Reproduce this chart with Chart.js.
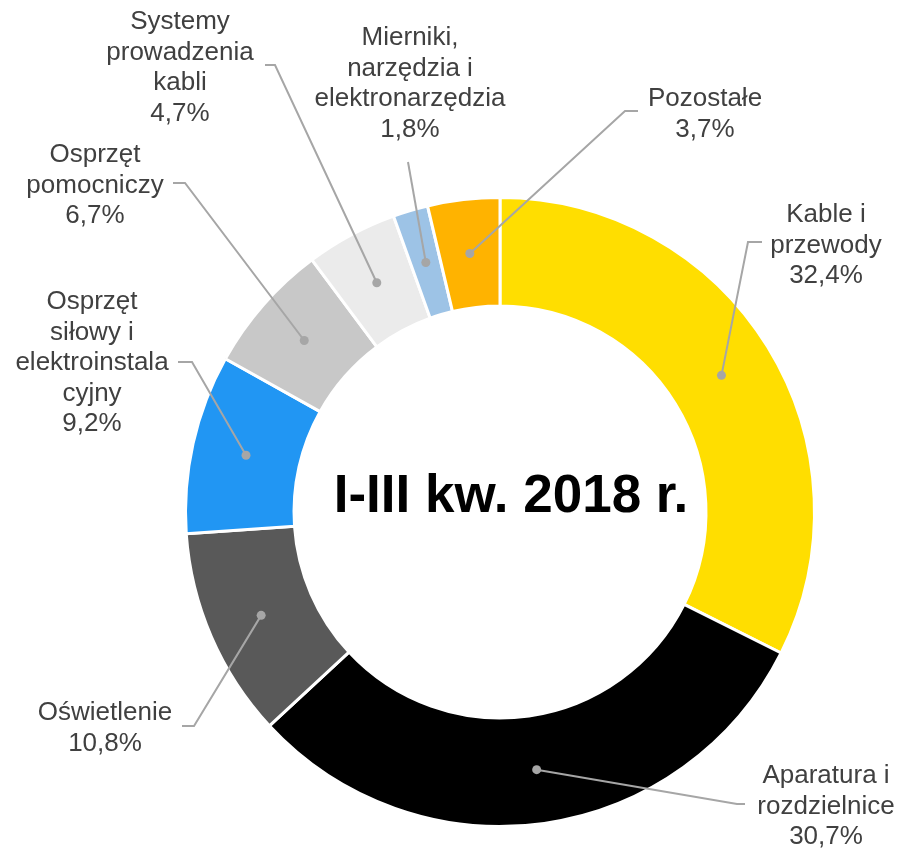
<!DOCTYPE html>
<html>
<head>
<meta charset="utf-8">
<script src="https://cdn.jsdelivr.net/npm/chart.js@4/dist/chart.umd.min.js"></script>
<style>
  html, body { margin: 0; padding: 0; background: #ffffff; }
  #wrap { width: 899px; height: 849px; position: relative; }
</style>
</head>
<body>
<div id="wrap"><canvas id="chartUdzial"></canvas></div>
<script>
// Dane: udział grup asortymentowych, I-III kw. 2018 r.
var kategorie = [
  ['Kable i', 'przewody'],
  ['Aparatura i', 'rozdzielnice'],
  ['Oświetlenie'],
  ['Osprzęt', 'siłowy i', 'elektroinstala', 'cyjny'],
  ['Osprzęt', 'pomocniczy'],
  ['Systemy', 'prowadzenia', 'kabli'],
  ['Mierniki,', 'narzędzia i', 'elektronarzędzia'],
  ['Pozostałe']
];
var udzialy = [32.4, 30.7, 10.8, 9.2, 6.7, 4.7, 1.8, 3.7];
var tytulSrodek = 'I-III kw. 2018 r.';

var KOLORY = ['#FFDE00', '#000000', '#595959', '#2196F3', '#C8C8C8', '#EBEBEB', '#9DC3E6', '#FFB300'];

// Położenie etykiet: środek tekstu (x), pierwsza linia bazowa (y),
// początek odnośnika (lx, ly) i kolano linii (kx)
var UKLAD_ETYKIET = [
  { x: 826, y: 222, lx: 762, ly: 242, kx: 748 },
  { x: 826, y: 783, lx: 745, ly: 804, kx: 737 },
  { x: 105, y: 720, lx: 182, ly: 726, kx: 194 },
  { x: 92,  y: 309, lx: 178, ly: 362, kx: 192 },
  { x: 95,  y: 162, lx: 173, ly: 183, kx: 185 },
  { x: 180, y: 29,  lx: 265, ly: 65,  kx: 275 },
  { x: 410, y: 45,  lx: 408, ly: 162, kx: 408 },
  { x: 705, y: 106, lx: 638, ly: 111, kx: 625 }
];

function fmtProcent(v) {
  return v.toFixed(1).replace('.', ',') + '%';
}

var etykietyPlugin = {
  id: 'etykiety',
  afterDatasetsDraw: function(chart) {
    var ctx = chart.ctx;
    var meta = chart.getDatasetMeta(0);
    var lineH = 30.5;

    ctx.save();
    meta.data.forEach(function(arc, i) {
      var u = UKLAD_ETYKIET[i];
      var p = arc.tooltipPosition();

      // odnośnik
      ctx.strokeStyle = '#A6A6A6';
      ctx.lineWidth = 2;
      ctx.beginPath();
      ctx.moveTo(u.lx, u.ly);
      ctx.lineTo(u.kx, u.ly);
      ctx.lineTo(p.x, p.y);
      ctx.stroke();

      ctx.fillStyle = '#A6A6A6';
      ctx.beginPath();
      ctx.arc(p.x, p.y, 4.5, 0, Math.PI * 2);
      ctx.fill();

      // tekst
      var linie = kategorie[i].concat([fmtProcent(udzialy[i])]);
      ctx.fillStyle = '#404040';
      ctx.font = '26px "Liberation Sans", Arial, sans-serif';
      ctx.textAlign = 'center';
      ctx.textBaseline = 'alphabetic';
      linie.forEach(function(t, j) {
        ctx.fillText(t, u.x, u.y + j * lineH);
      });
    });

    // napis w środku
    var a0 = meta.data[0];
    ctx.fillStyle = '#000000';
    ctx.font = 'bold 53px "Liberation Sans", Arial, sans-serif';
    ctx.textAlign = 'center';
    ctx.textBaseline = 'alphabetic';
    ctx.fillText(tytulSrodek, a0.x + 11, a0.y);
    ctx.restore();
  }
};

new Chart(document.getElementById('chartUdzial'), {
  type: 'doughnut',
  data: {
    labels: kategorie,
    datasets: [{
      data: udzialy,
      backgroundColor: KOLORY,
      borderColor: '#ffffff',
      borderWidth: 3
    }]
  },
  options: {
    responsive: true,
    maintainAspectRatio: false,
    animation: false,
    cutout: '65.5%',
    layout: { padding: { left: 184, top: 196, right: 83, bottom: 21 } },
    plugins: {
      legend: { display: false },
      tooltip: { enabled: false }
    }
  },
  plugins: [etykietyPlugin]
});
</script>
</body>
</html>
